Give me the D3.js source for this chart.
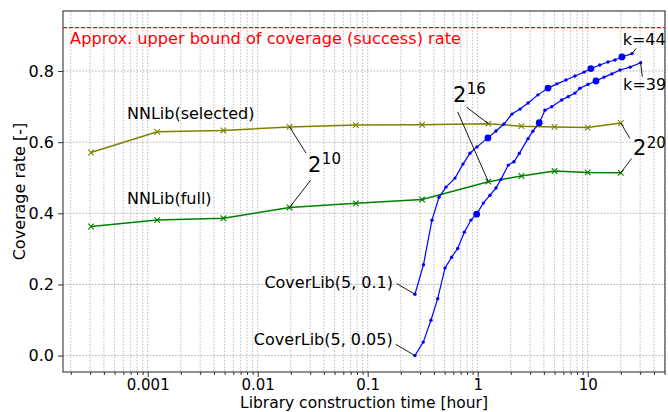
<!DOCTYPE html>
<html><head><meta charset="utf-8">
<script src="https://cdn.jsdelivr.net/npm/d3@7"></script>
<style>
body{margin:0;background:#fff}
svg{display:block}
text{font-family:"DejaVu Sans",sans-serif}
</style>
</head><body>
<svg id="c" width="668" height="412"></svg>
<script>
// ---------------- data ----------------
const nnTimes = [0.000305, 0.00122, 0.00488, 0.0195, 0.078, 0.3125, 1.25, 2.5, 5, 10, 20];
const nnSelected = [0.571, 0.629, 0.633, 0.643, 0.648, 0.649, 0.652, 0.645, 0.643, 0.641, 0.654];
const nnFull = [0.363, 0.381, 0.386, 0.4165, 0.428, 0.439, 0.489, 0.505, 0.519, 0.515, 0.514];

const cover01Times = [0.269, 0.3216, 0.384, 0.445, 0.515, 0.622, 0.735, 0.851, 0.985, 1.24, 1.466, 1.734, 2.05, 2.43, 2.87, 3.53, 4.36, 5.26, 6.35, 7.67, 9.29, 10.7, 12.9, 15.3, 17.7, 20.5, 25.3];
const cover01Rates = [0.1725, 0.2556, 0.3808, 0.445, 0.4737, 0.499, 0.5384, 0.569, 0.5868, 0.612, 0.6313, 0.651, 0.679, 0.693, 0.710, 0.733, 0.752, 0.764, 0.775, 0.786, 0.797, 0.807, 0.817, 0.8255, 0.831, 0.8396, 0.849];
const cover01Big = [9, 16, 21, 25];

const cover005Times = [0.269, 0.320, 0.376, 0.433, 0.505, 0.580, 0.658, 0.756, 0.869, 0.979, 1.124, 1.294, 1.466, 1.628, 1.897, 2.138, 2.39, 2.866, 3.18, 3.63, 4.09, 4.71, 5.8, 6.66, 7.66, 8.51, 10.06, 11.9, 14.1, 16.6, 19.7, 24.3, 30.3];
const cover005Rates = [0, 0.038, 0.0994, 0.160, 0.2466, 0.2767, 0.301, 0.347, 0.381, 0.3977, 0.4287, 0.451, 0.471, 0.4954, 0.5356, 0.545, 0.5685, 0.610, 0.631, 0.6547, 0.690, 0.6997, 0.7185, 0.728, 0.738, 0.7515, 0.762, 0.772, 0.783, 0.792, 0.803, 0.811, 0.8235];
const cover005Big = [9, 19, 27];

const upperBound = 0.922;
const xTickValues = [0.001, 0.01, 0.1, 1, 10];
const xTickLabels = ["0.001", "0.01", "0.1", "1", "10"];
const yTickValues = [0, 0.2, 0.4, 0.6, 0.8];
const yTickLabels = ["0.0", "0.2", "0.4", "0.6", "0.8"];

// ---------------- layout ----------------
const W = 668, H = 412;
const m = {left: 63, right: 3, top: 11, bottom: 40};
const svg = d3.select("#c");

const x = d3.scaleLog().domain([Math.pow(10, -3.77), Math.pow(10, 1.703)]).range([m.left, W - m.right]);
const y = d3.scaleLinear().domain([-0.0461, 0.9688]).range([H - m.bottom, m.top]);

const clipId = "plotclip";
svg.append("defs").append("clipPath").attr("id", clipId)
  .append("rect").attr("x", m.left).attr("y", m.top)
  .attr("width", W - m.left - m.right).attr("height", H - m.top - m.bottom);

// minor ticks
const [d0, d1] = x.domain();
const minorTicks = [];
for (let e = -4; e <= 2; e++) {
  for (let k = 1; k <= 9; k++) {
    const v = k * Math.pow(10, e);
    if (v >= d0 && v <= d1) minorTicks.push(v);
  }
}

// grid
const grid = svg.append("g");
grid.selectAll("line.vx").data(minorTicks).join("line")
  .attr("x1", d => x(d)).attr("x2", d => x(d))
  .attr("y1", m.top).attr("y2", H - m.bottom)
  .attr("stroke", "#b0b0b0").attr("stroke-width", 0.8)
  .attr("stroke-dasharray", "1.6,1.6");
grid.selectAll("line.hy").data(yTickValues).join("line")
  .attr("x1", m.left).attr("x2", W - m.right)
  .attr("y1", d => y(d)).attr("y2", d => y(d))
  .attr("stroke", "#a0a0a0").attr("stroke-width", 0.8)
  .attr("stroke-dasharray", "1.6,1.6");

// axes
const xAxis = svg.append("g").attr("transform", `translate(0,${H - m.bottom})`)
  .call(d3.axisBottom(x).tickValues(xTickValues).tickFormat((d, i) => xTickLabels[i]).tickSize(5).tickPadding(2.5));
const xMinor = svg.append("g").attr("transform", `translate(0,${H - m.bottom})`)
  .call(d3.axisBottom(x).tickValues(minorTicks.filter(v => !xTickValues.includes(v))).tickFormat("").tickSize(3));
xMinor.select(".domain").remove();
const yAxis = svg.append("g").attr("transform", `translate(${m.left},0)`)
  .call(d3.axisLeft(y).tickValues(yTickValues).tickFormat((d, i) => yTickLabels[i]).tickSize(5).tickPadding(4));
xAxis.selectAll("text").attr("font-size", 15);
yAxis.selectAll("text").attr("font-size", 16);
[xAxis, yAxis].forEach(g => {
  g.selectAll("text").attr("font-family", "DejaVu Sans").attr("fill", "#000");
  g.select(".domain").remove();
});
svg.selectAll(".tick line").attr("stroke", "#000").attr("stroke-width", 0.8);

// frame
svg.append("rect").attr("x", m.left).attr("y", m.top)
  .attr("width", W - m.left - m.right).attr("height", H - m.top - m.bottom)
  .attr("fill", "none").attr("stroke", "#222").attr("stroke-width", 1);

// axis labels
svg.append("text").attr("x", (m.left + W - m.right) / 2).attr("y", 408.3)
  .attr("text-anchor", "middle").attr("font-size", 15.5).text("Library construction time [hour]");
svg.append("text").attr("transform", `translate(25,${(m.top + H - m.bottom) / 2}) rotate(-90)`)
  .attr("text-anchor", "middle").attr("font-size", 16).text("Coverage rate [-]");

const plot = svg.append("g").attr("clip-path", `url(#${clipId})`);

// upper bound line
plot.append("line").attr("x1", m.left).attr("x2", W - m.right)
  .attr("y1", y(upperBound)).attr("y2", y(upperBound))
  .attr("stroke", "#ff0000").attr("stroke-width", 1.2).attr("stroke-dasharray", "4,2");

// NNLib series
const nnLine = d3.line().x((d, i) => x(nnTimes[i])).y(d => y(d));
function nnSeries(vals, color) {
  plot.append("path").attr("d", nnLine(vals)).attr("fill", "none")
    .attr("stroke", color).attr("stroke-width", 1.5);
  const s = 2.8;
  plot.selectAll(null).data(vals).join("path")
    .attr("d", (d, i) => {
      const cx = x(nnTimes[i]), cy = y(d);
      return `M${cx - s},${cy - s}L${cx + s},${cy + s}M${cx - s},${cy + s}L${cx + s},${cy - s}`;
    })
    .attr("stroke", color).attr("stroke-width", 1.1).attr("fill", "none");
}
nnSeries(nnSelected, "#808000");
nnSeries(nnFull, "#008000");

// CoverLib series
function coverSeries(ts, rs, big) {
  const line = d3.line().x((d, i) => x(ts[i])).y(d => y(d));
  plot.append("path").attr("d", line(rs)).attr("fill", "none")
    .attr("stroke", "#0000ff").attr("stroke-width", 1.2);
  plot.selectAll(null).data(rs).join("circle")
    .attr("cx", (d, i) => x(ts[i])).attr("cy", d => y(d))
    .attr("r", (d, i) => big.includes(i) ? 3.4 : 1.7)
    .attr("fill", "#0000ff");
}
coverSeries(cover01Times, cover01Rates, cover01Big);
coverSeries(cover005Times, cover005Rates, cover005Big);

// ---------------- annotations ----------------
const ann = svg.append("g");
function connector(t0, v0, t1, v1) {
  ann.append("line").attr("x1", x(t0)).attr("y1", y(v0)).attr("x2", x(t1)).attr("y2", y(v1))
    .attr("stroke", "#000").attr("stroke-width", 0.9);
}
function label(t, v, txt, anchor, color, size) {
  ann.append("text").attr("x", x(t)).attr("y", y(v)).attr("text-anchor", anchor || "start")
    .attr("font-size", size || 16).attr("fill", color || "#000").text(txt);
}
function power(t, v, exp) {
  const tx = ann.append("text").attr("x", x(t)).attr("y", y(v))
    .attr("font-family", "'Liberation Serif','DejaVu Serif',serif").attr("fill", "#000");
  tx.append("tspan").attr("font-size", 21).text("2");
  tx.append("tspan").attr("font-size", 15).attr("dy", -7.5).attr("dx", 0.5).text(exp);
}

label(0.000197, 0.877, "Approx. upper bound of coverage (success) rate", "start", "#ff0000", 16.2);
label(0.000648, 0.6665, "NNLib(selected)");
label(0.000648, 0.4257, "NNLib(full)");

// 2^10
power(0.02866, 0.5172, "10");
connector(0.0275, 0.5692, nnTimes[3], nnSelected[3]);
connector(0.0303, 0.4933, nnTimes[3], nnFull[3]);
// 2^16
power(0.596, 0.714, "16");
connector(0.794, 0.698, nnTimes[6], nnSelected[6]);
connector(0.658, 0.6854, nnTimes[6], nnFull[6]);
// 2^20
power(25.8, 0.5636, "20");
connector(24.2, 0.6106, nnTimes[10], nnSelected[10]);
connector(25.1, 0.5543, nnTimes[10], nnFull[10]);

// k labels
label(20.8, 0.8745, "k=44");
connector(27.5, 0.8633, cover01Times[cover01Times.length - 1], cover01Rates[cover01Rates.length - 1]);
label(21.0, 0.748, "k=39");
connector(31.4, 0.7845, cover005Times[cover005Times.length - 1], cover005Rates[cover005Rates.length - 1]);

// CoverLib labels
label(0.170, 0.1913, "CoverLib(5, 0.1)", "end");
connector(0.1835, 0.2026, cover01Times[0], cover01Rates[0]);
label(0.1688, 0.029, "CoverLib(5, 0.05)", "end");
connector(0.1797, 0.0318, cover005Times[0], cover005Rates[0]);
</script>
</body></html>
